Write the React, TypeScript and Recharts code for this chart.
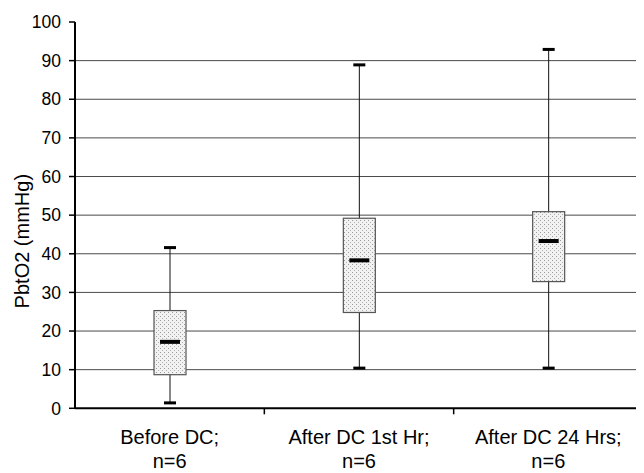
import { ComposedChart, Bar, XAxis, YAxis, CartesianGrid } from 'recharts';

// categories and box-plot statistics
const categories = ['Before DC;', 'After DC 1st Hr;', 'After DC 24 Hrs;'];
const sampleSizes = ['n=6', 'n=6', 'n=6'];
const mins = [1.4, 10.4, 10.4];
const q1s = [8.7, 24.8, 32.8];
const medians = [17.2, 38.3, 43.3];
const q3s = [25.3, 49.2, 50.9];
const maxs = [41.6, 88.9, 92.9];
const yTicks = [0, 10, 20, 30, 40, 50, 60, 70, 80, 90, 100];
const gridValues = [10, 20, 30, 40, 50, 60, 70, 80, 90];

const FONT = 'Arial, "Liberation Sans", sans-serif';

const data = categories.map((name, i) => ({
  name,
  n: sampleSizes[i],
  min: mins[i],
  q1: q1s[i],
  median: medians[i],
  q3: q3s[i],
  max: maxs[i],
}));

// draws one box with whiskers; positions come from the bar's own min..max extent
function BoxShape(props: any) {
  const { x, y, width, height, payload } = props;
  const top = Math.min(y, y + height);
  const h = Math.abs(height);
  const range = payload.max - payload.min;
  const py = (v: number) => top + ((payload.max - v) / range) * h;
  const cx = x + width / 2;
  const capW = 12;
  const medW = 20;
  return (
    <g>
      <line x1={cx} x2={cx} y1={py(payload.max)} y2={py(payload.min)} stroke="#111" strokeWidth={1} />
      <rect x={cx - capW / 2} y={py(payload.max) - 1.5} width={capW} height={3} fill="#000" />
      <rect x={cx - capW / 2} y={py(payload.min) - 1.5} width={capW} height={3} fill="#000" />
      <rect
        x={x}
        y={py(payload.q3)}
        width={width}
        height={py(payload.q1) - py(payload.q3)}
        fill="url(#stipple)"
        stroke="#555"
        strokeWidth={1.2}
      />
      <rect x={cx - medW / 2} y={py(payload.median) - 2} width={medW} height={4} fill="#000" />
    </g>
  );
}

// two-line category label plus tick marks at the category band boundaries
function CategoryTick(props: any) {
  const { x, y, payload, index, width, visibleTicksCount } = props;
  const i = categories.indexOf(payload.value);
  const half = width / visibleTicksCount / 2;
  const last = index === visibleTicksCount - 1;
  return (
    <g>
      {index > 0 && <line x1={x - half} x2={x - half} y1={y} y2={y + 6} stroke="#000" strokeWidth={1.5} />}
      {last && <line x1={x + half - 0.5} x2={x + half - 0.5} y1={y} y2={y + 6} stroke="#000" strokeWidth={1.5} />}
      <text x={x} y={y} textAnchor="middle" fontSize={20} fontFamily={FONT} fill="#000">
        <tspan x={x} dy={36}>{payload.value}</tspan>
        <tspan x={x} dy={24}>{sampleSizes[i]}</tspan>
      </text>
    </g>
  );
}

function YTitle(props: any) {
  const { viewBox } = props;
  const cx = viewBox.x + 14;
  const cy = viewBox.y + viewBox.height / 2 + 26;
  return (
    <text
      x={cx}
      y={cy}
      transform={`rotate(-90 ${cx} ${cy})`}
      textAnchor="middle"
      dominantBaseline="central"
      fontSize={20}
      fontFamily={FONT}
      fill="#000"
    >
      PbtO2 (mmHg)
    </text>
  );
}

export default function App() {
  return (
    <ComposedChart
      width={636}
      height={465}
      data={data}
      margin={{ top: 14, right: 1, bottom: 0, left: 0 }}
      style={{ fontFamily: FONT }}
    >
      <defs>
        <pattern id="stipple" width="4" height="4" patternUnits="userSpaceOnUse">
          <rect width="4" height="4" fill="#f2f2f2" />
          <rect x="0" y="0" width="1" height="1" fill="#9a9a9a" />
          <rect x="2" y="2" width="1" height="1" fill="#b0b0b0" />
        </pattern>
      </defs>
      <CartesianGrid vertical={false} horizontalValues={gridValues} stroke="#4a4a4a" strokeWidth={1} />
      <XAxis
        dataKey="name"
        tick={<CategoryTick />}
        tickLine={false}
        tickSize={0}
        tickMargin={0}
        axisLine={{ stroke: '#000', strokeWidth: 2 }}
        height={64.7}
        interval={0}
      />
      <YAxis
        domain={[0, 100]}
        ticks={yTicks}
        interval={0}
        width={67}
        tickSize={6}
        tickMargin={8}
        axisLine={{ stroke: '#000', strokeWidth: 2 }}
        tickLine={{ stroke: '#000', strokeWidth: 1.5 }}
        tick={{ fontSize: 17.5, fill: '#000', fontFamily: FONT }}
        label={{ content: <YTitle /> }}
      />
      <Bar
        dataKey={(d: any) => [d.min, d.max]}
        barSize={32}
        shape={<BoxShape />}
        isAnimationActive={false}
      />
    </ComposedChart>
  );
}
